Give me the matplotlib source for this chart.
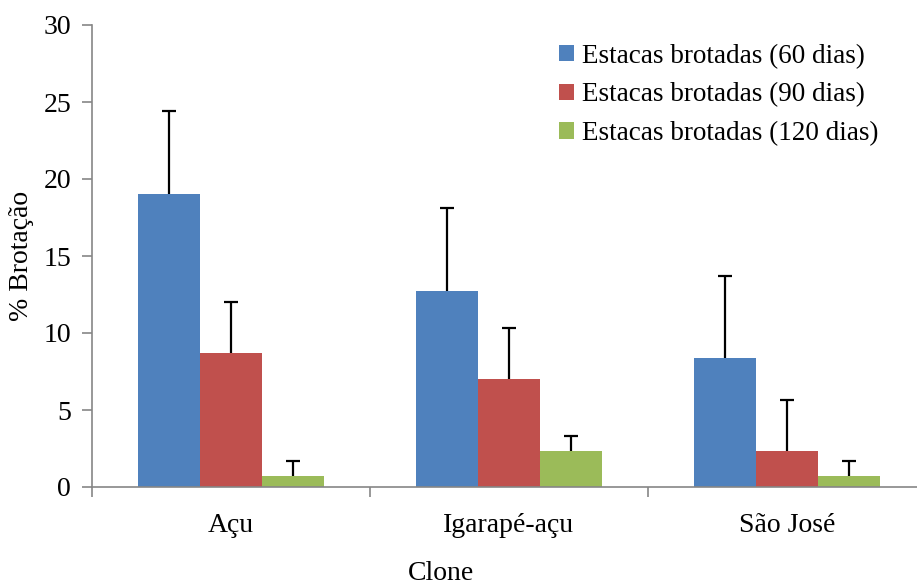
import matplotlib
matplotlib.use("Agg")
import matplotlib.pyplot as plt
import numpy as np

categories = ["Açu", "Igarapé-açu", "São José"]
series_names = ["Estacas brotadas (60 dias)", "Estacas brotadas (90 dias)", "Estacas brotadas (120 dias)"]
values_60 = [19.0, 12.7, 8.35]
values_90 = [8.7, 7.0, 2.35]
values_120 = [0.7, 2.35, 0.7]
err_60 = [5.4, 5.4, 5.35]
err_90 = [3.3, 3.3, 3.3]
err_120 = [1.0, 0.95, 1.0]
colors = ["#4F81BD", "#C0504D", "#9BBB59"]

plt.rcParams['font.family'] = ['Liberation Serif', 'DejaVu Serif']

fig = plt.figure(figsize=(9.17, 5.87), dpi=100)
ax = fig.add_axes([92/917, 1 - 487/587, (926 - 92)/917, (487 - 25)/587])

x = np.arange(len(categories))
w = 0.223
series = [(values_60, err_60), (values_90, err_90), (values_120, err_120)]
for i, ((vals, errs), name, c) in enumerate(zip(series, series_names, colors)):
    pos = x + (i - 1) * w
    ax.bar(pos, vals, width=w, color=c, label=name, zorder=2)
    eb = ax.errorbar(pos, vals, yerr=[np.zeros(len(vals)), errs], fmt='none',
                     ecolor='black', elinewidth=1.6, capsize=5, capthick=1.6, zorder=3)
    caps = eb[1]
    if len(caps) == 2:
        caps[0].set_visible(False)

ax.set_xlim(-0.5, len(categories) - 0.5)
ax.set_ylim(0, 30)
ax.set_yticks([0, 5, 10, 15, 20, 25, 30])
ax.set_xticks(x)
ax.set_xticklabels(categories)
ax.set_xticks(np.arange(-0.5, len(categories), 1.0), minor=True)
ax.tick_params(axis='x', which='major', length=0, pad=19, labelsize=20)
ax.tick_params(axis='x', which='minor', length=7, color='#868686', width=1.2)
ax.tick_params(axis='y', length=7, color='#868686', width=1.2, labelsize=20, pad=8)

for s in ['top', 'right']:
    ax.spines[s].set_visible(False)
for s in ['left', 'bottom']:
    ax.spines[s].set_color('#868686')
    ax.spines[s].set_linewidth(1.2)

fig.text(21/917, 1 - 256/587, "% Brotação", fontsize=20, rotation=90, ha='center', va='center')
fig.text(441/917, 1 - 573/587, "Clone", fontsize=20, ha='center', va='center')

leg = ax.legend(loc='upper left', bbox_to_anchor=(548/917, 1 - 33/587), bbox_transform=fig.transFigure,
                frameon=False, fontsize=19.5, handlelength=0.55, handleheight=0.55,
                handletextpad=0.3, labelspacing=0.5, borderaxespad=0)

fig.savefig("out.png", dpi=100)
